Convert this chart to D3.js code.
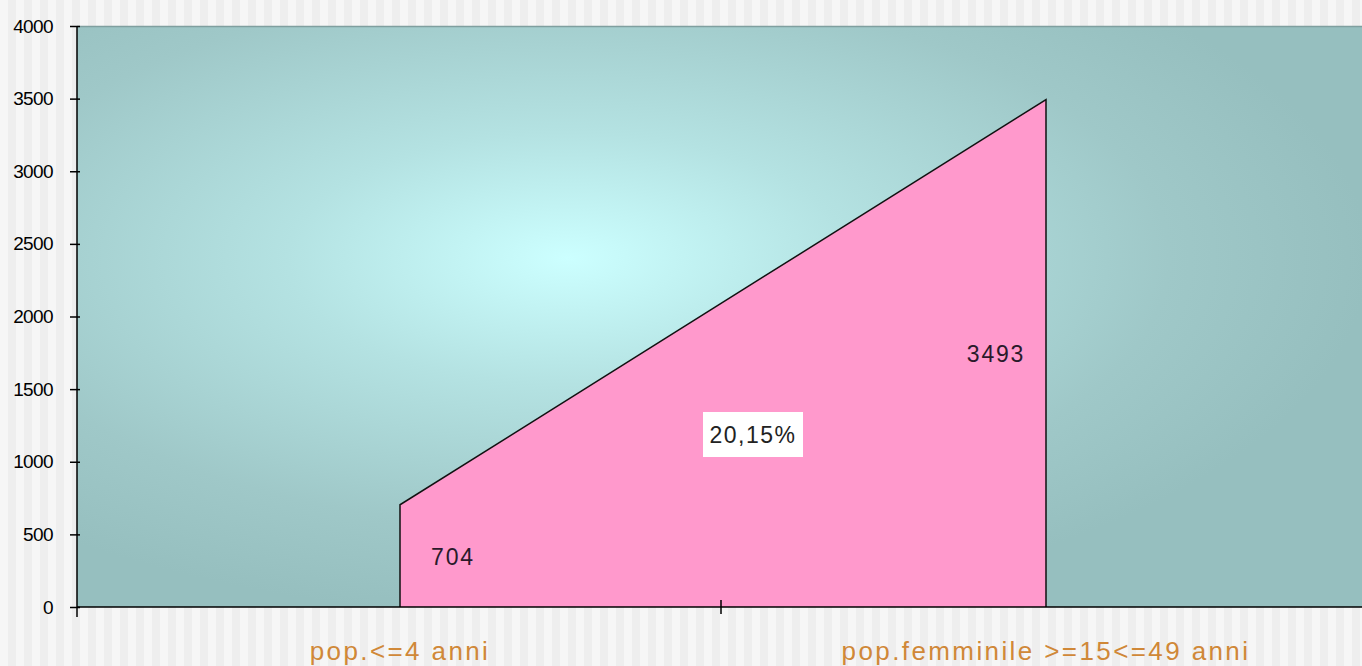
<!DOCTYPE html>
<html><head><meta charset="utf-8">
<script src="https://cdn.jsdelivr.net/npm/d3@7"></script>
<style>html,body{margin:0;padding:0;background:#f4f4f4;overflow:hidden}</style>
</head><body>
<svg id="c" width="1362" height="666"></svg>
<script>
const categories = ["pop.<=4 anni", "pop.femminile >=15<=49 anni"];
const values = [704, 3493];
const yTicks = [0, 500, 1000, 1500, 2000, 2500, 3000, 3500, 4000];
const ratioLabel = (values[0] / values[1] * 100).toFixed(2).replace('.', ',') + '%';

(function(){
const svg = d3.select('#c');
const W = 1362, H = 666;
const mLeft = 77, mRight = 1369, mTop = 26, mBottom = 607;
const FONT = 'Liberation Sans, Arial, sans-serif';

const defs = svg.append('defs');
const pat = defs.append('pattern').attr('id','stripes').attr('patternUnits','userSpaceOnUse')
  .attr('width',16).attr('height',10);
pat.append('rect').attr('width',16).attr('height',10).attr('fill','#f6f6f6');
pat.append('rect').attr('x',8).attr('width',8).attr('height',10).attr('fill','#eeeeee');

const rg = defs.append('radialGradient').attr('id','bg')
  .attr('cx',0.38).attr('cy',0.4).attr('r',0.62).attr('fx',0.38).attr('fy',0.4);
rg.append('stop').attr('offset','0%').attr('stop-color','#ccffff');
rg.append('stop').attr('offset','35%').attr('stop-color','#b4e2e2');
rg.append('stop').attr('offset','75%').attr('stop-color','#9fc8c8');
rg.append('stop').attr('offset','100%').attr('stop-color','#96bfbf');

svg.append('rect').attr('width',W).attr('height',H).attr('fill','url(#stripes)');

const x = d3.scaleBand().domain(categories).range([mLeft, mRight]).paddingInner(0).paddingOuter(0);
const y = d3.scaleLinear().domain([0, 4000]).range([mBottom, mTop]);
const cx = c => x(c) + x.bandwidth() / 2;

svg.append('rect').attr('x',mLeft).attr('y',mTop).attr('width',mRight-mLeft).attr('height',mBottom-mTop)
  .attr('fill','url(#bg)');
svg.append('line').attr('x1',mLeft).attr('x2',W).attr('y1',mTop+0.5).attr('y2',mTop+0.5)
  .attr('stroke','#7f9f9f').attr('stroke-width',1.5);

const data = categories.map((c,i)=>({c, v: values[i]}));

const area = d3.area().x(d=>cx(d.c)).y0(y(0)).y1(d=>y(d.v));
svg.append('path').datum(data).attr('d',area).attr('fill','#ff99cc');
const outline = [[cx(data[0].c), y(0)], [cx(data[0].c), y(data[0].v)], [cx(data[1].c), y(data[1].v)], [cx(data[1].c), y(0)]];
svg.append('path').attr('d', d3.line()(outline)).attr('fill','none').attr('stroke','#111').attr('stroke-width',1.5);

const yAxis = d3.axisLeft(y).tickValues(yTicks).tickSize(7).tickPadding(17).tickFormat(d3.format('d'));
const gy = svg.append('g').attr('transform',`translate(${mLeft},0)`).call(yAxis);
gy.select('.domain').remove();
gy.selectAll('.tick line').attr('stroke','#000').attr('stroke-width',1.5).attr('x2',-7).attr('x1',3);
gy.selectAll('.tick text').attr('font-family',FONT).attr('font-size',19).attr('fill','#000').attr('letter-spacing',-0.6);
svg.append('line').attr('x1',mLeft).attr('x2',mLeft).attr('y1',mTop).attr('y2',mBottom+10).attr('stroke','#000').attr('stroke-width',1.5);

svg.append('line').attr('x1',mLeft).attr('x2',W).attr('y1',mBottom).attr('y2',mBottom).attr('stroke','#000').attr('stroke-width',1.5);
svg.append('line').attr('x1',x(categories[1])-2).attr('x2',x(categories[1])-2).attr('y1',mBottom-7).attr('y2',mBottom+7)
  .attr('stroke','#000').attr('stroke-width',1.5);

svg.selectAll('.cat').data(categories).join('text').attr('class','cat')
  .attr('x',d=>cx(d)).attr('y',660).attr('text-anchor','middle')
  .attr('font-family',FONT).attr('font-size',26).attr('letter-spacing',2.4)
  .attr('fill','#d08838').text(d=>d);

svg.selectAll('.dl').data(data).join('text').attr('class','dl')
  .attr('x',(d,i)=>cx(d.c) + (i===0 ? 53 : -50))
  .attr('y',d=>(y(0)+y(d.v))/2 + 9)
  .attr('text-anchor','middle')
  .attr('font-family',FONT).attr('font-size',23).attr('letter-spacing',1.8)
  .attr('fill','#2a1a2a').text(d=>d.v);

const mx = (cx(categories[0]) + cx(categories[1]))/2 + 30;
const my = 434;
svg.append('rect').attr('x',mx-50).attr('y',my-22).attr('width',100).attr('height',45).attr('fill','#fff');
svg.append('text').attr('x',mx).attr('y',my+9).attr('text-anchor','middle')
  .attr('font-family',FONT).attr('font-size',23).attr('letter-spacing',1.5)
  .attr('fill','#222').text(ratioLabel);
})();
</script>
</body></html>
